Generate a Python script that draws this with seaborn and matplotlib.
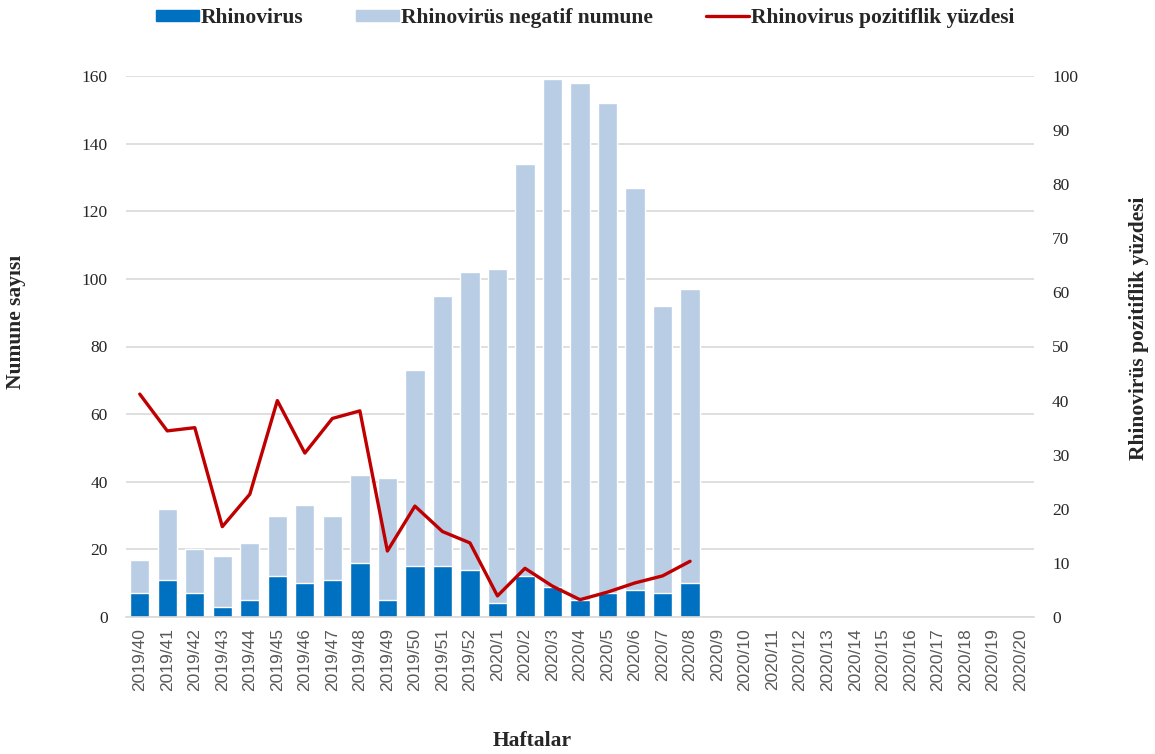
import numpy as np
import pandas as pd
import matplotlib
matplotlib.use("Agg")
import matplotlib.pyplot as plt
import seaborn as sns
from matplotlib.patches import Patch
from matplotlib.lines import Line2D

# Weekly rhinovirus surveillance, 2019/40 - 2020/20
weeks = ["2019/40", "2019/41", "2019/42", "2019/43", "2019/44", "2019/45", "2019/46",
         "2019/47", "2019/48", "2019/49", "2019/50", "2019/51", "2019/52",
         "2020/1", "2020/2", "2020/3", "2020/4", "2020/5", "2020/6", "2020/7", "2020/8",
         "2020/9", "2020/10", "2020/11", "2020/12", "2020/13", "2020/14", "2020/15",
         "2020/16", "2020/17", "2020/18", "2020/19", "2020/20"]
positive = [7, 11, 7, 3, 5, 12, 10, 11, 16, 5, 15, 15, 14, 4, 12, 9, 5, 7, 8, 7, 10]
negative = [10, 21, 13, 15, 17, 18, 23, 19, 26, 36, 58, 80, 88, 99, 122, 150, 153, 145, 119, 85, 87]
percent = [41.2, 34.4, 35.0, 16.7, 22.7, 40.0, 30.3, 36.7, 38.1, 12.2, 20.5, 15.8, 13.7,
           3.9, 9.0, 5.7, 3.2, 4.6, 6.3, 7.6, 10.3]

n_missing = len(weeks) - len(positive)
pad = [np.nan] * n_missing
df = pd.DataFrame({
    "week": weeks,
    "positive": positive + pad,
    "negative": negative + pad,
    "percent": percent + pad,
})
df["total"] = df["positive"] + df["negative"]
df["pos"] = np.arange(len(weeks))

DARK = "#0070C0"
LIGHT = "#B9CDE5"
RED = "#C00000"
GRID = "#D9D9D9"
XTICK = "#595959"
YTICK = "#262626"
SERIF = ["Liberation Serif", "DejaVu Serif"]

sns.set_theme(style="white")
plt.rcParams["font.family"] = ["Liberation Sans", "DejaVu Sans"]

fig = plt.figure(figsize=(11.55, 7.54), dpi=100)
ax = fig.add_axes([126 / 1155, 1 - 617 / 754, (1034 - 126) / 1155, (617 - 76) / 754])

# stacked bars: full height in light blue, positives overlaid in dark blue
sns.barplot(data=df, x="week", y="total", order=weeks, color=LIGHT, width=0.7,
            saturation=1, ax=ax, errorbar=None)
sns.barplot(data=df, x="week", y="positive", order=weeks, color=DARK, width=0.7,
            saturation=1, ax=ax, errorbar=None)

ax.set_ylim(0, 160)
ax.set_yticks(np.arange(0, 161, 20))
ax.set_xlim(-0.5, len(weeks) - 0.5)
ax.yaxis.grid(True, color=GRID, linewidth=1.2)
ax.set_axisbelow(True)
for side in ["top", "left", "right"]:
    ax.spines[side].set_visible(False)
ax.spines["bottom"].set_color(GRID)
ax.spines["bottom"].set_linewidth(1.2)
ax.tick_params(axis="y", labelcolor=YTICK, length=0, pad=13)
ax.tick_params(axis="x", labelsize=12.5, labelcolor=XTICK, length=0, pad=8)
ax.set_xticks(range(len(weeks)))
ax.set_xticklabels(weeks, rotation=90)
for t in ax.get_yticklabels():
    t.set_fontfamily(SERIF)
    t.set_fontsize(12.5)
ax.set_xlabel("")
ax.set_ylabel("")

ax2 = ax.twinx()
sns.lineplot(data=df, x="pos", y="percent", color=RED, linewidth=2.4, ax=ax2)
ax2.set_ylim(0, 100)
ax2.set_yticks(np.arange(0, 101, 10))
ax2.set_xlim(-0.5, len(weeks) - 0.5)
for side in ["top", "left", "right", "bottom"]:
    ax2.spines[side].set_visible(False)
ax2.tick_params(axis="y", labelcolor=YTICK, length=0, pad=13)
for t in ax2.get_yticklabels():
    t.set_fontfamily(SERIF)
    t.set_fontsize(12.5)
ax2.grid(False)
ax2.set_xlabel("")
ax2.set_ylabel("")

title_font = dict(family=SERIF, weight="bold", size=15.5)
fig.text(16 / 1155, 1 - 322 / 754, "Numune sayısı", rotation=90, ha="center", va="center",
         **title_font)
fig.text(1139 / 1155, 1 - 328 / 754, "Rhinovirüs pozitiflik yüzdesi", rotation=90,
         ha="center", va="center", **title_font)
fig.text(532 / 1155, 1 - 741 / 754, "Haftalar", ha="center", va="center", **title_font)

handles = [
    Patch(facecolor=DARK, edgecolor=DARK),
    Patch(facecolor=LIGHT, edgecolor=LIGHT),
    Line2D([0], [0], color=RED, linewidth=2.4),
]
labels = ["Rhinovirus", "Rhinovirüs negatif numune", "Rhinovirus pozitiflik yüzdesi"]
fig.legend(handles, labels, loc="center", bbox_to_anchor=(585 / 1155, 1 - 18 / 754),
           ncol=3, frameon=False, handlelength=2.0, handleheight=0.4, handletextpad=0.1,
           columnspacing=2.45, borderpad=0.2,
           prop=dict(family=SERIF, weight="bold", size=15.5))

fig.savefig("out.png", dpi=100)
